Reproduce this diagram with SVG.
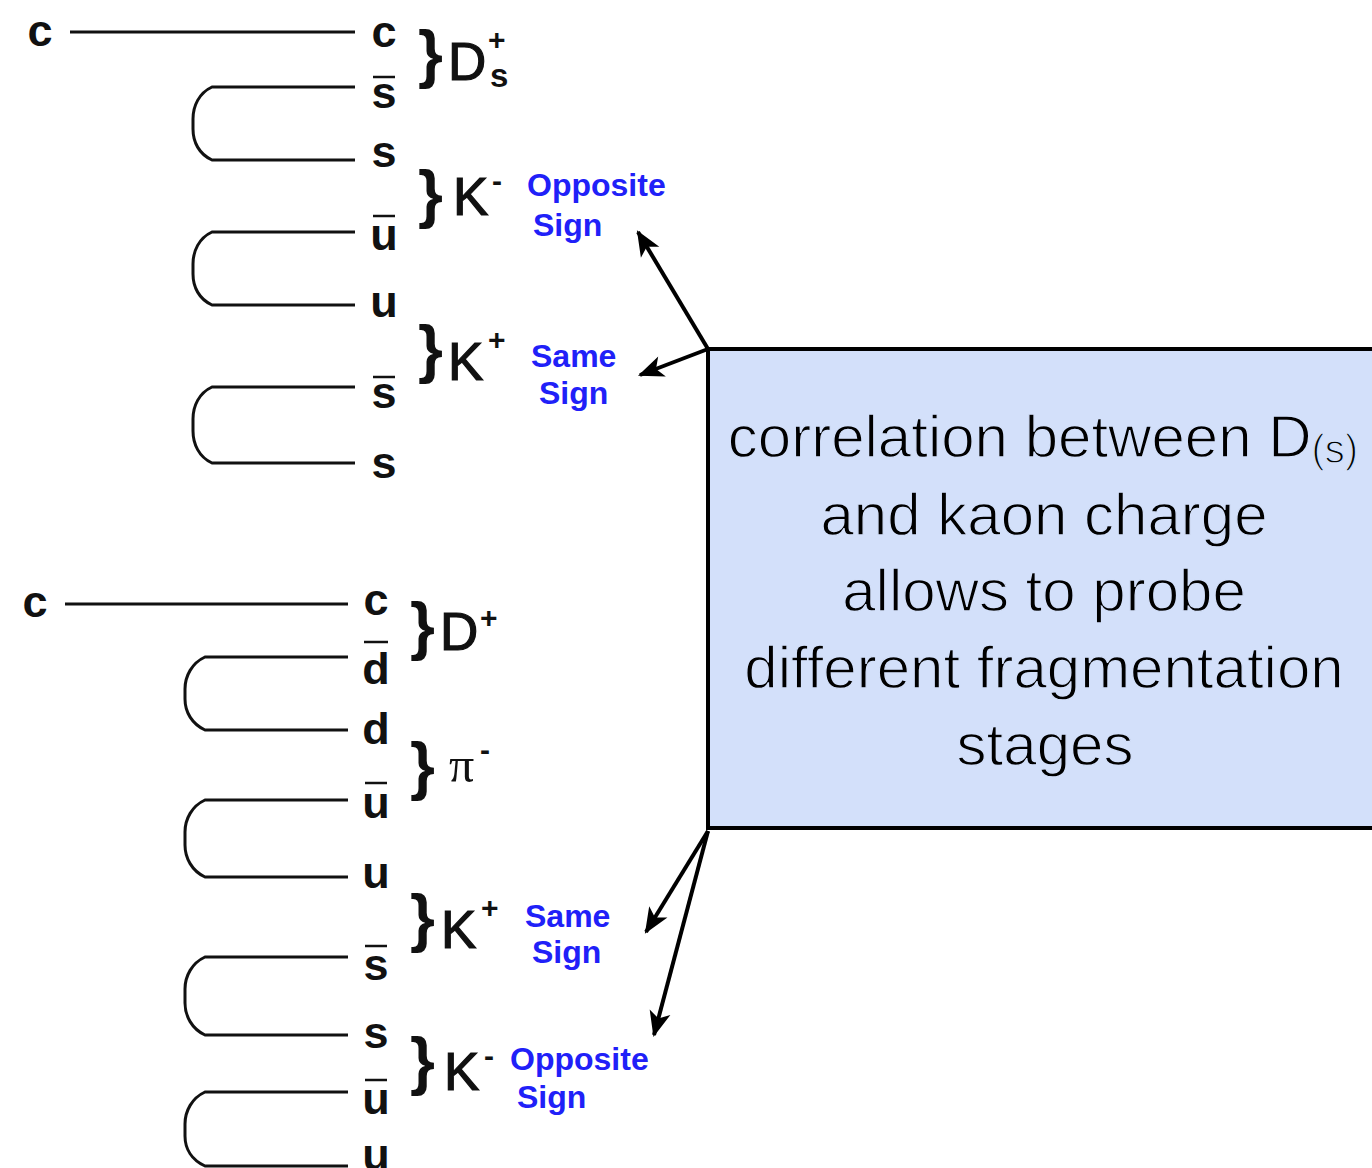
<svg xmlns="http://www.w3.org/2000/svg" width="1372" height="1168" viewBox="0 0 1372 1168">
  <style>
    .q { font-family: "Liberation Sans", Arial, sans-serif; font-weight: bold; font-size: 45px; fill: #111; text-anchor: middle; }
    .brace { font-family: "Liberation Sans", Arial, sans-serif; font-weight: bold; font-size: 64px; fill: #111; }
    .had { font-family: "Liberation Sans", Arial, sans-serif; font-size: 53px; fill: #111; stroke: #111; stroke-width: 1.2; }
    .sup { font-family: "Liberation Sans", Arial, sans-serif; font-weight: bold; font-size: 30px; fill: #111; }
    .sub { font-family: "Liberation Sans", Arial, sans-serif; font-weight: bold; font-size: 33px; fill: #111; }
    .pi { font-family: "Liberation Serif", "Times New Roman", serif; font-size: 50px; fill: #111; }
    .sign { font-family: "Liberation Sans", Arial, sans-serif; font-weight: bold; font-size: 32px; fill: #2020f8; }
    .bar { stroke: #111; stroke-width: 2.5; }
    .str { fill: none; stroke: #111; stroke-width: 3; }
    .arr { fill: none; stroke: #000; stroke-width: 4; marker-end: url(#head); }
    .box { fill: #d3e0fa; stroke: #000; stroke-width: 4; }
    /* light face: the box-coloured outline trims the glyph edges */
    .note { font-family: "Liberation Sans", Arial, sans-serif; font-size: 60px; fill: #000; stroke: #d3e0fa; stroke-width: 1.3; text-anchor: middle; }
  </style>
  <defs>
    <marker id="head" markerUnits="userSpaceOnUse" markerWidth="30" markerHeight="30" viewBox="-2 -12 28 24" refX="22" refY="0" orient="auto">
      <path d="M0,-10 L24,0 L0,10 L6,0 Z" fill="#000"/>
    </marker>
  </defs>

  <rect width="1372" height="1168" fill="#fff"/>

  <!-- upper chain: c -> D_s+ K- K+ -->
  <g id="chain-ds">
    <text class="q" x="40" y="46">c</text>
    <path class="str" d="M70,32 H355"/>
    <path class="str" d="M355,87 H212 C199,93 193,106 193,119 V129 C193,142 199,154 212,160 H355"/>
    <path class="str" d="M355,232 H212 C199,238 193,251 193,264 V274 C193,287 199,299 212,305 H355"/>
    <path class="str" d="M355,387 H212 C199,393 193,406 193,419 V431 C193,444 199,457 212,463 H355"/>
    <text class="q" x="384" y="47">c</text>
    <line class="bar" x1="373" y1="77" x2="395" y2="77"/>
    <text class="q" x="384" y="108">s</text>
    <text class="q" x="384" y="167">s</text>
    <line class="bar" x1="373" y1="216" x2="395" y2="216"/>
    <text class="q" x="384" y="250">u</text>
    <text class="q" x="384" y="317">u</text>
    <line class="bar" x1="373" y1="377" x2="395" y2="377"/>
    <text class="q" x="384" y="408">s</text>
    <text class="q" x="384" y="478">s</text>
  </g>

  <g id="hadron-ds">
    <text class="brace" x="418" y="76">}</text>
    <text class="had" x="448" y="80">D</text>
    <text class="sup" x="488" y="50">+</text>
    <text class="sub" x="490" y="87">s</text>
  </g>
  <g id="hadron-kminus-1">
    <text class="brace" x="418" y="216">}</text>
    <text class="had" x="453" y="215">K</text>
    <text class="sup" x="492" y="191">-</text>
    <text class="sign" x="527" y="196">Opposite</text>
    <text class="sign" x="533" y="236">Sign</text>
  </g>
  <g id="hadron-kplus-1">
    <text class="brace" x="418" y="371">}</text>
    <text class="had" x="448" y="380">K</text>
    <text class="sup" x="488" y="350">+</text>
    <text class="sign" x="531" y="367">Same</text>
    <text class="sign" x="539" y="404">Sign</text>
  </g>

  <!-- lower chain: c -> D+ pi- K+ K- -->
  <g id="chain-d">
    <text class="q" x="35" y="617">c</text>
    <path class="str" d="M65,604 H348"/>
    <path class="str" d="M348,657 H205 C192,663 185,676 185,689 V699 C185,712 192,724 205,730 H348"/>
    <path class="str" d="M348,800 H205 C192,806 185,819 185,832 V845 C185,858 192,871 205,877 H348"/>
    <path class="str" d="M348,957 H205 C192,963 185,976 185,989 V1003 C185,1016 192,1029 205,1035 H348"/>
    <path class="str" d="M348,1092 H205 C192,1098 185,1111 185,1124 V1136 C185,1149 192,1160 205,1166 H348"/>
    <text class="q" x="376" y="615">c</text>
    <line class="bar" x1="364" y1="642" x2="388" y2="642"/>
    <text class="q" x="376" y="684">d</text>
    <text class="q" x="376" y="744">d</text>
    <line class="bar" x1="365" y1="783" x2="387" y2="783"/>
    <text class="q" x="376" y="818">u</text>
    <text class="q" x="376" y="888">u</text>
    <line class="bar" x1="365" y1="946" x2="387" y2="946"/>
    <text class="q" x="376" y="980">s</text>
    <text class="q" x="376" y="1048">s</text>
    <line class="bar" x1="365" y1="1080" x2="387" y2="1080"/>
    <text class="q" x="376" y="1114">u</text>
    <text class="q" x="376" y="1170">u</text>
  </g>

  <g id="hadron-dplus">
    <text class="brace" x="410" y="648">}</text>
    <text class="had" x="440" y="650">D</text>
    <text class="sup" x="480" y="628">+</text>
  </g>
  <g id="hadron-piminus">
    <text class="brace" x="410" y="788">}</text>
    <text class="pi" x="449" y="782">π</text>
    <text class="sup" x="480" y="760">-</text>
  </g>
  <g id="hadron-kplus-2">
    <text class="brace" x="410" y="940">}</text>
    <text class="had" x="441" y="948">K</text>
    <text class="sup" x="481" y="918">+</text>
    <text class="sign" x="525" y="927">Same</text>
    <text class="sign" x="532" y="963">Sign</text>
  </g>
  <g id="hadron-kminus-2">
    <text class="brace" x="410" y="1083">}</text>
    <text class="had" x="444" y="1090">K</text>
    <text class="sup" x="484" y="1066">-</text>
    <text class="sign" x="510" y="1070">Opposite</text>
    <text class="sign" x="517" y="1108">Sign</text>
  </g>

  <!-- explanation box -->
  <g id="note">
    <rect class="box" x="708" y="349" width="700" height="479"/>
    <text class="note" x="1043" y="457">correlation between D<tspan font-size="40" dy="6">(s)</tspan></text>
    <text class="note" x="1044" y="535">and kaon charge</text>
    <text class="note" x="1044" y="611">allows to probe</text>
    <text class="note" x="1044" y="688">different fragmentation</text>
    <text class="note" x="1045" y="765">stages</text>
  </g>

  <g id="connectors">
    <path class="arr" d="M708,349 L638,232"/>
    <path class="arr" d="M708,349 L640,375"/>
    <path class="arr" d="M708,831 L646,932"/>
    <path class="arr" d="M708,831 L654,1035"/>
  </g>
</svg>
